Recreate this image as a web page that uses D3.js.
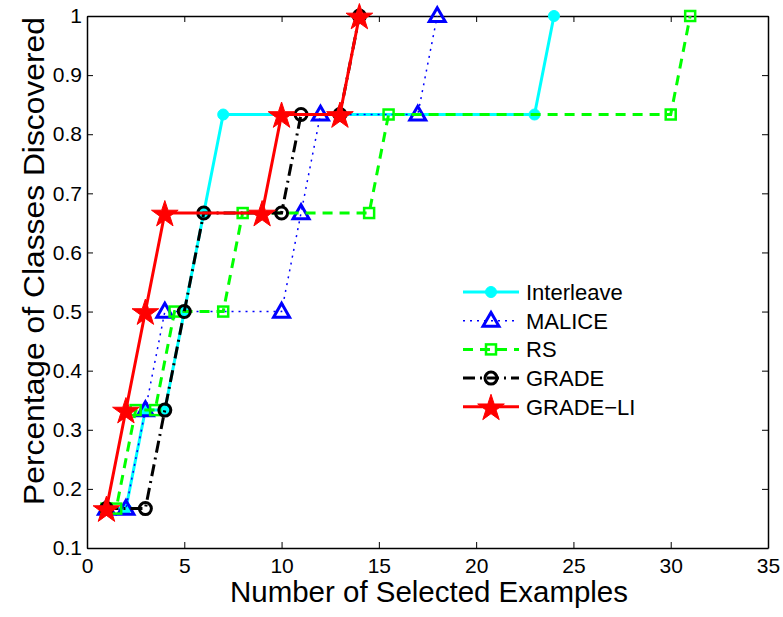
<!DOCTYPE html>
<html>
<head>
<meta charset="utf-8">
<script src="https://cdn.jsdelivr.net/npm/d3@7"></script>
<style>
  body { margin: 0; background: #fff; }
  text { font-family: "Liberation Sans", Arial, sans-serif; }
</style>
</head>
<body>
<script>
// Data
var seriesNames = ["Interleave", "MALICE", "RS", "GRADE", "GRADE\u2212LI"];

var interleaveX = [1, 2, 3, 4, 5, 6, 7, 23, 24];
var interleaveY = [1/6, 1/6, 2/6, 2/6, 3/6, 4/6, 5/6, 5/6, 1];

var maliceX = [1, 2, 3, 4, 10, 11, 12, 17, 18];
var maliceY = [1/6, 1/6, 2/6, 3/6, 3/6, 4/6, 5/6, 5/6, 1];

var rsX = [1, 1.5, 2.5, 3.5, 4.5, 7, 8, 14.5, 15.5, 30, 31];
var rsY = [1/6, 1/6, 2/6, 2/6, 3/6, 3/6, 4/6, 4/6, 5/6, 5/6, 1];

var gradeX = [1, 3, 4, 5, 6, 10, 11, 13, 14];
var gradeY = [1/6, 1/6, 2/6, 3/6, 4/6, 4/6, 5/6, 5/6, 1];

var gradeLiX = [1, 2, 3, 4, 9, 10, 13, 14];
var gradeLiY = [1/6, 2/6, 3/6, 4/6, 4/6, 5/6, 5/6, 1];

var xTicks = [0, 5, 10, 15, 20, 25, 30, 35];
var yTicks = [0.1, 0.2, 0.3, 0.4, 0.5, 0.6, 0.7, 0.8, 0.9, 1];

// Chart dimensions
var W = 783, H = 617;
var margin = {top: 16, right: 15, bottom: 69, left: 87},
    width = W - margin.left - margin.right,
    height = H - margin.top - margin.bottom;

var svg = d3.select("body").append("svg")
  .attr("width", W)
  .attr("height", H);

var g = svg.append("g")
  .attr("transform", "translate(" + margin.left + "," + margin.top + ")");

var x = d3.scaleLinear().domain([0, 35]).range([0, width]);
var y = d3.scaleLinear().domain([0.1, 1]).range([height, 0]);

// Axes (MATLAB-like: inward ticks on all four sides)
var tk = 6;
g.append("g")
  .attr("transform", "translate(0," + height + ")")
  .call(d3.axisBottom(x).tickValues(xTicks).tickSizeInner(-tk).tickSizeOuter(0).tickPadding(10));
g.append("g")
  .call(d3.axisTop(x).tickValues(xTicks).tickSizeInner(-tk).tickSizeOuter(0).tickFormat(""));
g.append("g")
  .call(d3.axisLeft(y).tickValues(yTicks).tickSizeInner(-tk).tickSizeOuter(0).tickPadding(5)
    .tickFormat(function(d) { return d === 1 ? "1" : d3.format(".1f")(d); }));
g.append("g")
  .attr("transform", "translate(" + width + ",0)")
  .call(d3.axisRight(y).tickValues(yTicks).tickSizeInner(-tk).tickSizeOuter(0).tickFormat(""));

g.selectAll(".domain").attr("stroke", "#000").attr("stroke-width", 1.5);
g.selectAll(".tick line").attr("stroke", "#000").attr("stroke-width", 1);
g.selectAll(".tick text").attr("font-size", "21px").attr("fill", "#000")
  .attr("font-family", "Liberation Sans, Arial, sans-serif");

// Series styles
var styles = [
  {name: seriesNames[0], xs: interleaveX, ys: interleaveY, color: "#00ffff", dash: null, width: 3, marker: "dot"},
  {name: seriesNames[1], xs: maliceX, ys: maliceY, color: "#0000ff", dash: "2,5", width: 1.5, marker: "tri"},
  {name: seriesNames[2], xs: rsX, ys: rsY, color: "#00ff00", dash: "10,7", width: 3, marker: "sq"},
  {name: seriesNames[3], xs: gradeX, ys: gradeY, color: "#000000", dash: "12,5,2,5", width: 3, marker: "circ"},
  {name: seriesNames[4], xs: gradeLiX, ys: gradeLiY, color: "#ff0000", dash: null, width: 3, marker: "star"}
];

var line = d3.line().x(function(d) { return x(d[0]); }).y(function(d) { return y(d[1]); });

function drawMarker(sel, s) {
  if (s.marker === "dot") {
    sel.append("circle").attr("r", 5.5).attr("fill", s.color).attr("stroke", s.color);
  } else if (s.marker === "tri") {
    sel.append("path").attr("d", d3.symbol().type(d3.symbolTriangle).size(110)())
      .attr("transform", "translate(0,1)")
      .attr("fill", "none").attr("stroke", s.color).attr("stroke-width", 3);
  } else if (s.marker === "sq") {
    sel.append("rect").attr("x", -5).attr("y", -5).attr("width", 10).attr("height", 10)
      .attr("fill", "none").attr("stroke", s.color).attr("stroke-width", 2.5);
  } else if (s.marker === "circ") {
    sel.append("circle").attr("r", 6).attr("fill", "none").attr("stroke", s.color).attr("stroke-width", 3);
  } else if (s.marker === "star") {
    sel.append("path").attr("d", d3.symbol().type(d3.symbolStar).size(220)())
      .attr("transform", "translate(0,1.5)")
      .attr("fill", s.color).attr("stroke", s.color).attr("stroke-width", 1);
  }
}

var plot = g.append("g");
styles.forEach(function(s) {
  var pts = s.xs.map(function(v, i) { return [v, s.ys[i]]; });
  plot.append("path")
    .datum(pts)
    .attr("d", line)
    .attr("fill", "none")
    .attr("stroke", s.color)
    .attr("stroke-width", s.width)
    .attr("stroke-dasharray", s.dash);
  plot.selectAll(null)
    .data(pts)
    .enter().append("g")
    .attr("transform", function(d) { return "translate(" + x(d[0]) + "," + y(d[1]) + ")"; })
    .each(function() { drawMarker(d3.select(this), s); });
});

// Legend
var legend = g.append("g").attr("transform", "translate(376,276)");
styles.forEach(function(s, i) {
  var row = legend.append("g").attr("transform", "translate(0," + (i * 28.7) + ")");
  row.append("line")
    .attr("x1", 0).attr("x2", 56)
    .attr("stroke", s.color).attr("stroke-width", s.width)
    .attr("stroke-dasharray", s.dash);
  var m = row.append("g").attr("transform", "translate(28,0)");
  drawMarker(m, s);
  row.append("text")
    .attr("x", 63).attr("y", 8)
    .attr("font-size", "22px")
    .text(s.name);
});

// Axis titles
svg.append("text")
  .attr("x", 429)
  .attr("y", 602)
  .attr("text-anchor", "middle")
  .attr("font-size", "29px")
  .attr("textLength", 398)
  .attr("lengthAdjust", "spacingAndGlyphs")
  .text("Number of Selected Examples");

svg.append("text")
  .attr("transform", "translate(44,261) rotate(-90)")
  .attr("text-anchor", "middle")
  .attr("font-size", "29px")
  .attr("textLength", 488)
  .attr("lengthAdjust", "spacingAndGlyphs")
  .text("Percentage of Classes Discovered");
</script>
</body>
</html>
